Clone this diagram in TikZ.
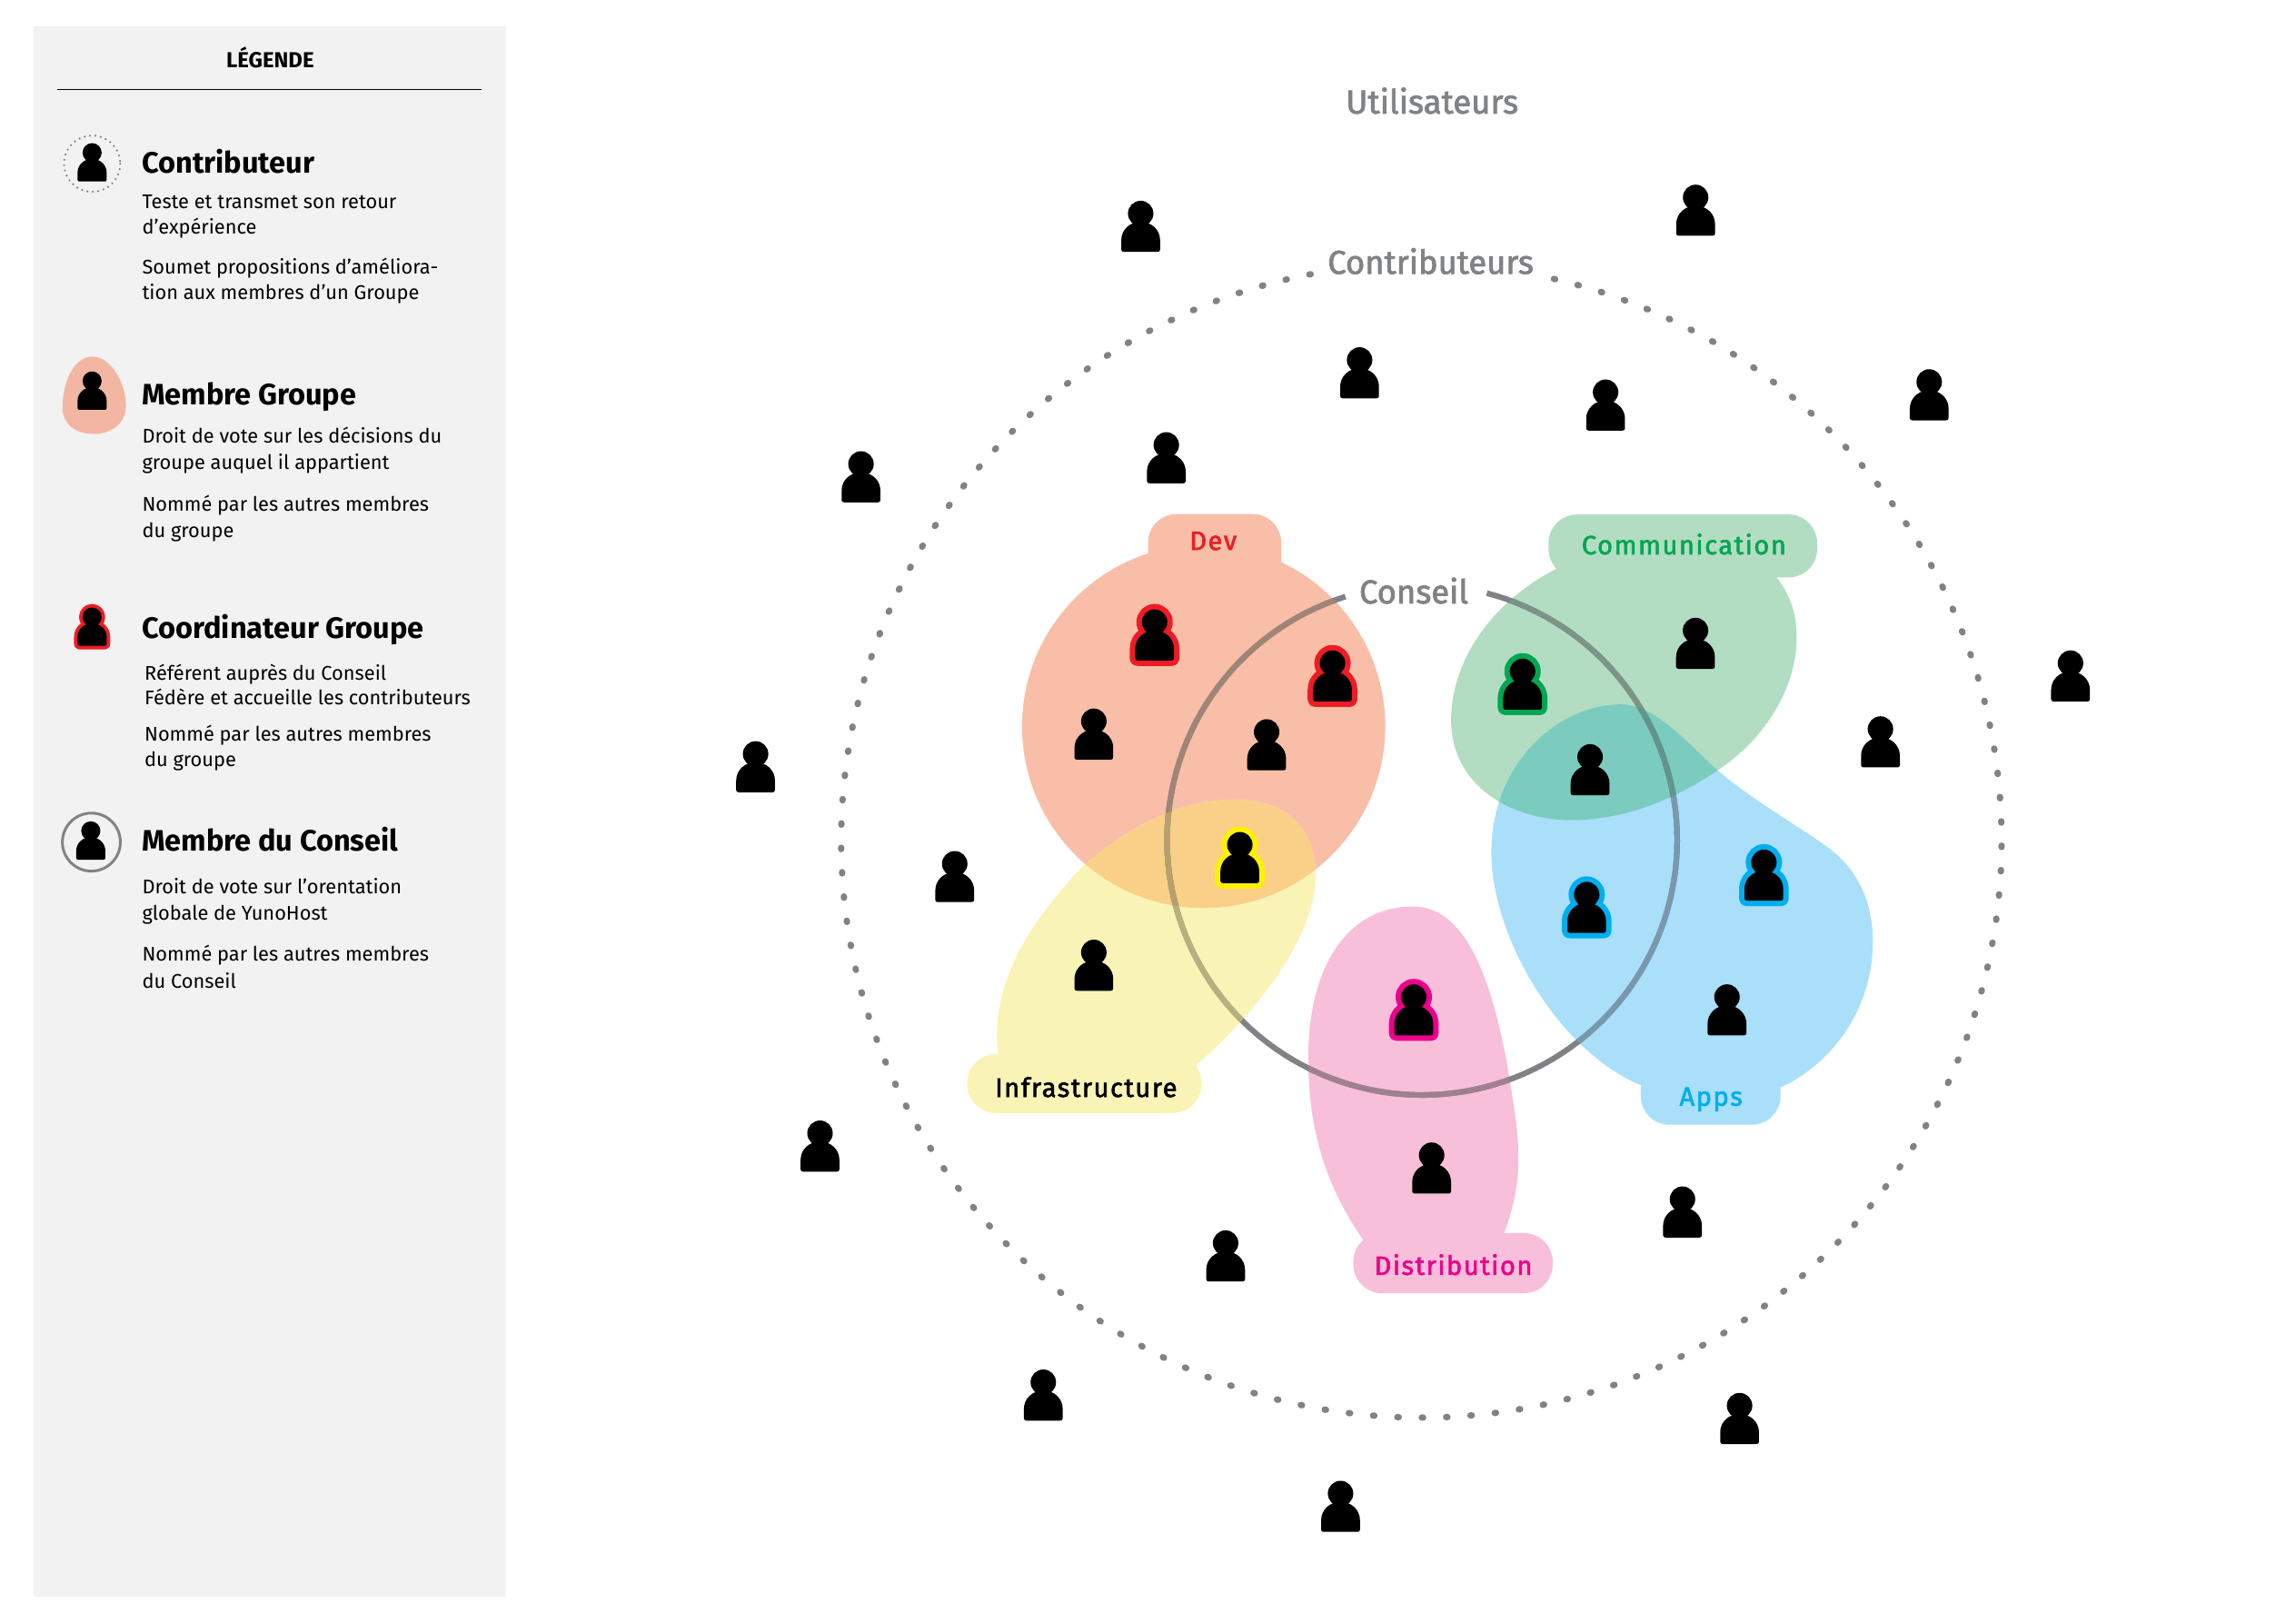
\documentclass[tikz,border=0pt]{standalone}
\usepackage{fontspec}
\setmainfont{Fira Sans}
\definecolor{panel}{HTML}{F2F2F2}
\definecolor{greyc}{HTML}{808285}
\definecolor{devc}{HTML}{F9BEA8}
\definecolor{legc}{HTML}{F3B6A2}
\definecolor{infc}{HTML}{F9F4B5}
\definecolor{disc}{HTML}{F7BFD9}
\definecolor{comc}{HTML}{B2DDC3}
\definecolor{appc}{HTML}{AADFFA}
\definecolor{devinf}{HTML}{FAD088}
\definecolor{comapp}{HTML}{7BCBBF}
\definecolor{redc}{HTML}{ED1C24}
\definecolor{grnc}{HTML}{00A651}
\definecolor{bluc}{HTML}{00AEEF}
\definecolor{pnkc}{HTML}{EC008C}
\definecolor{yelc}{HTML}{FFF200}
\def\headpath{(0,-26.2) circle (8.7)}
\def\bodypath{(-13.25,-1.5) -- (-13.25,-8) .. controls (-13.25,-15) and (-7.5,-20.5) .. (0,-20.5) .. controls (7.5,-20.5) and (13.25,-15) .. (13.25,-8) -- (13.25,-1.5) .. controls (13.25,-.5) and (12.5,0) .. (11.5,0) -- (-11.5,0) .. controls (-12.5,0) and (-13.25,-.5) .. (-13.25,-1.5) -- cycle}
\def\devpath{(822,496) circle (124)}
\def\infpath{(682,722) .. controls (676,680) and (694,640) .. (738,593) .. controls (770,565) and (805,546) .. (843,546) .. controls (878,546) and (899,565) .. (898.5,600) .. controls (897,640) and (860,690) .. (816,728) -- cycle}
\def\dispath{(932,848) .. controls (905,810) and (893,770) .. (893.5,720) .. controls (894,660) and (920,619) .. (965,619) .. controls (1005,619) and (1020,680) .. (1029,725) .. controls (1036,770) and (1044,800) .. (1026,845) -- cycle}
\def\compath{(1063.6,388) .. controls (1020,410) and (991,450) .. (991,492) .. controls (991,535) and (1030,560) .. (1073.5,560) .. controls (1110,560) and (1145,545) .. (1173,526) .. controls (1205,505) and (1227,470) .. (1227,435) .. controls (1227,418) and (1222,405) .. (1213,394) -- cycle}
\def\apppath{(1120.5,741) .. controls (1065,718) and (1018,640) .. (1018.5,581) .. controls (1019,520) and (1065,481) .. (1106.7,481) .. controls (1130,481) and (1150,505) .. (1173,526) .. controls (1195,545) and (1225,562) .. (1246,577) .. controls (1268,592) and (1279,615) .. (1279,643) .. controls (1279,690) and (1250,727) .. (1216,742.5) -- cycle}
\def\conseilarc{plot[domain=252.5:-75.3,samples=140] ({971.2+174.2*cos(\x)},{573.5+174.2*sin(\x)})}
\tikzset{
  person/.pic={\fill[black] \headpath; \fill[black] \bodypath;},
  leadline/.style={line width=3.4pt,line join=round},
  lead/.pic={\draw[#1,leadline] \headpath; \draw[#1,leadline] \bodypath; \fill[black] \headpath; \fill[black] \bodypath;},
  tabshape/.style={rounded corners=9pt},
  conseilline/.style={line width=1.75pt},
  bodytxt/.style={anchor=base west,inner sep=0pt,font=\fontsize{6.2}{8}\selectfont},
  headtxt/.style={anchor=base west,inner sep=0pt,font=\fontsize{9.25}{11}\selectfont\bfseries},
  grouptxt/.style={anchor=base,inner sep=0pt,font=\fontsize{8.3}{9}\selectfont\addfontfeature{LetterSpace=5,FakeBold=2}},
  ringtxt/.style={anchor=base,inner sep=0pt,text=greyc,font=\fontsize{10.35}{12}\selectfont\addfontfeature{FakeBold=2}},
}
\begin{document}
\begin{tikzpicture}[x=0.016116cm,y=-0.016116cm]
\useasboundingbox (0,0) rectangle (1568,1108.2);
\fill[white] (0,0) rectangle (1568,1108.2);
% legend panel
\fill[panel] (23,18) rectangle (345.6,1090);
\node[anchor=base,inner sep=0pt,font=\fontsize{6.8}{8}\selectfont\bfseries] (legtitle) at (184.5,46) {LÉGENDE};
\draw[black,line width=.4pt] (39.4,61) -- (329,61);
% legend items
\draw[greyc,line width=.7pt,dash pattern=on 0pt off 1.7pt,line cap=round] (62.9,111.8) circle (19.2);
\pic[scale=.75] at (62.9,123.9) {person};
\node[headtxt] (h1) at (96.5,118) {Contributeur};
\node[bodytxt] (t1a) at (96.7,142.3) {Teste et transmet son retour};
\node[bodytxt] (t1b) at (96.7,159.9) {d’expérience};
\node[bodytxt] (t1c) at (96.7,186.9) {Soumet propositions d’améliora-};
\node[bodytxt] (t1d) at (96.7,204.5) {tion aux membres d’un Groupe};
\fill[legc] (63,243.5) .. controls (76,243.5) and (86,262) .. (86,277) .. controls (86,290) and (75,296.3) .. (64,296.3) .. controls (52,296.3) and (42.7,290) .. (42.7,278) .. controls (42.7,262) and (50,243.5) .. (63,243.5) -- cycle;
\pic[scale=.75] at (62.9,279.8) {person};
\node[headtxt] (h2) at (96.5,276.2) {Membre Groupe};
\node[bodytxt] (t2a) at (96.7,302.7) {Droit de vote sur les décisions du};
\node[bodytxt] (t2b) at (96.7,320.5) {groupe auquel il appartient};
\node[bodytxt] (t2c) at (96.7,348.8) {Nommé par les autres membres};
\node[bodytxt] (t2d) at (96.7,366.9) {du groupe};
\pic[scale=.75,leadline/.append style={line width=2.2pt}] at (62.9,441) {lead=redc};
\node[headtxt] (h3) at (96.5,435.8) {Coordinateur Groupe};
\node[bodytxt] (t3a) at (98.3,464.3) {Référent auprès du Conseil};
\node[bodytxt] (t3b) at (98.3,481.3) {Fédère et accueille les contributeurs};
\node[bodytxt] (t3c) at (98.3,506) {Nommé par les autres membres};
\node[bodytxt] (t3d) at (98.3,523.6) {du groupe};
\draw[greyc,line width=.85pt] (62.4,575) circle (19.8);
\pic[scale=.75] at (62,587) {person};
\node[headtxt] (h4) at (96.5,580.8) {Membre du Conseil};
\node[bodytxt] (t4a) at (96.7,610.2) {Droit de vote sur l’orentation};
\node[bodytxt] (t4b) at (96.7,628) {globale de YunoHost};
\node[bodytxt] (t4c) at (96.7,656.3) {Nommé par les autres membres};
\node[bodytxt] (t4d) at (96.7,674.6) {du Conseil};
% contributors ring
\draw[greyc,line width=2pt,line cap=round,dash pattern=on 0.4pt off 7.2335pt] plot[domain=259:-78.6,samples=200] ({970.7+396.3*cos(\x)},{574+394*sin(\x)});
% groups
\fill[devc] \devpath;
\fill[devc,tabshape] (784,351) rectangle (875,405);
\fill[infc] \infpath;
\fill[infc,tabshape] (660.5,719.8) rectangle (820.6,760);
\begin{scope}\clip \devpath; \fill[devinf] \infpath;\end{scope}
\fill[disc] \dispath;
\fill[disc,tabshape] (924.2,842) rectangle (1060.4,883);
\fill[comc] \compath;
\fill[comc,tabshape] (1057.5,351.3) rectangle (1241,394.3);
\fill[appc] \apppath;
\fill[appc,tabshape] (1120.5,725) rectangle (1216,768);
\begin{scope}\clip \compath; \fill[comapp] \apppath;\end{scope}
% council circle
\draw[greyc,conseilline] \conseilarc;
\begin{scope}\clip \devpath; \draw[color={rgb,255:red,160;green,133;blue,118},conseilline] \conseilarc;\end{scope}
\begin{scope}\clip \infpath; \draw[color={rgb,255:red,184;green,176;blue,128},conseilline] \conseilarc;\end{scope}
\begin{scope}\clip \devpath; \clip \infpath; \draw[color={rgb,255:red,184;green,160;blue,110},conseilline] \conseilarc;\end{scope}
\begin{scope}\clip \dispath; \draw[color={rgb,255:red,160;green,128;blue,144},conseilline] \conseilarc;\end{scope}
\begin{scope}\clip \compath; \draw[color={rgb,255:red,124;green,148;blue,136},conseilline] \conseilarc;\end{scope}
\begin{scope}\clip \apppath; \draw[color={rgb,255:red,120;green,152;blue,172},conseilline] \conseilarc;\end{scope}
\begin{scope}\clip \compath; \clip \apppath; \draw[color={rgb,255:red,96;green,148;blue,140},conseilline] \conseilarc;\end{scope}
% users
\foreach \px/\py in {779/172,1158/161,928.5/272,1096.5/294,1317.5/287,796.5/330,588/343,1414/479,1284.2/524,516/541,652/616,560/800,837/875,1149/845,712.5/970,1188/986,915.5/1046,747/518.7,865/526,1157.9/456.7,1085.9/543,1179.4/707,747/676.5,977.7/815}
  \pic at (\px,\py) {person};
\pic at (788.5,451) {lead=redc};
\pic at (910,479) {lead=redc};
\pic at (846.7,603) {lead=yelc};
\pic at (1039.8,484.6) {lead=grnc};
\pic at (1083.6,637) {lead=bluc};
\pic at (1204.6,615) {lead=bluc};
\pic at (965.5,707) {lead=pnkc};
% labels
\node[ringtxt,font=\fontsize{10.4}{12}\selectfont\addfontfeature{FakeBold=2}] (utilisateurs) at (978,77.5) {Utilisateurs};
\node[ringtxt] (contributeurs) at (977,187) {Contributeurs};
\node[ringtxt] (conseil) at (965.5,412) {Conseil};
\node[grouptxt,text=redc] (dev) at (828.5,375.5) {Dev};
\node[grouptxt,text=grnc] (communication) at (1150,378.5) {Communication};
\node[grouptxt,text=black] (infrastructure) at (741.7,749) {Infrastructure};
\node[grouptxt,text=bluc] (apps) at (1168.5,755) {Apps};
\node[grouptxt,text=pnkc] (distribution) at (992.5,870.5) {Distribution};
\end{tikzpicture}
\end{document}
